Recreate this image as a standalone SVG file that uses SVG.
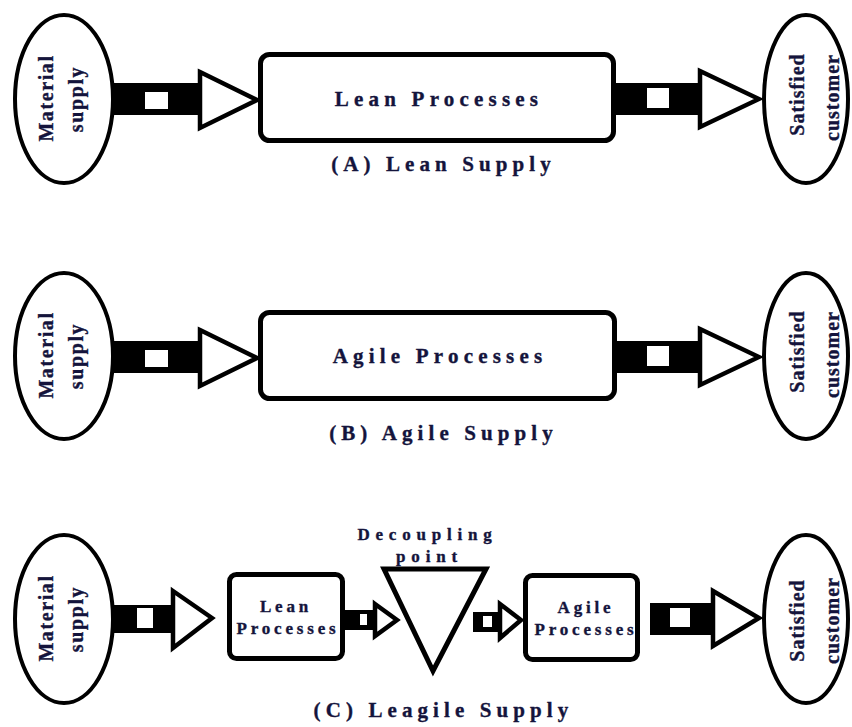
<svg xmlns="http://www.w3.org/2000/svg" width="852" height="727" viewBox="0 0 852 727">
  <style>
    .bg { fill: #ffffff; }
    .ell { fill: #ffffff; stroke: #000000; stroke-width: 4; }
    .box { fill: #ffffff; stroke: #000000; stroke-width: 5; }
    .tri { fill: #ffffff; stroke: #000000; stroke-width: 5; stroke-linejoin: miter; }
    .shaft { fill: #000000; }
    .win { fill: #ffffff; }
    .head { fill: #ffffff; stroke: #000000; stroke-width: 4.5; stroke-linejoin: miter; }
    text { font-family: "Liberation Serif", "Times New Roman", serif; font-weight: bold; fill: #14143c; stroke: #14143c; stroke-width: 0.35; text-anchor: middle; }
    .title { font-size: 21px; letter-spacing: 5.2px; }
    .cap { font-size: 21px; letter-spacing: 5.1px; }
    .small { font-size: 17px; letter-spacing: 3.8px; }
    .dec { font-size: 17px; letter-spacing: 5.8px; }
    .ovl { font-size: 20px; letter-spacing: 1.6px; }
    .ovr { font-size: 20px; letter-spacing: 1px; }
  </style>
  <rect class="bg" x="0" y="0" width="852" height="727"/>

  <!-- block arrows: black shaft, white window, outlined head -->
  <g id="connectors">
    <!-- row A -->
    <rect class="shaft" x="113" y="83" width="89" height="32"/>
    <rect class="win" x="145" y="92" width="23" height="17"/>
    <polygon class="head" points="200,72 257,100 200,128"/>
    <rect class="shaft" x="615" y="83" width="87" height="32"/>
    <rect class="win" x="647" y="88" width="22" height="20"/>
    <polygon class="head" points="700,71 759,99 700,127"/>

    <!-- row B -->
    <rect class="shaft" x="113" y="341" width="89" height="32"/>
    <rect class="win" x="145" y="350" width="23" height="17"/>
    <polygon class="head" points="200,330 257,358 200,386"/>
    <rect class="shaft" x="615" y="341" width="87" height="32"/>
    <rect class="win" x="647" y="346" width="22" height="20"/>
    <polygon class="head" points="700,329 759,357 700,385"/>

    <!-- row C -->
    <rect class="shaft" x="111" y="605" width="64" height="28"/>
    <rect class="win" x="137" y="608" width="16" height="20"/>
    <polygon class="head" points="173,591 212,618 173,648"/>
    <rect class="shaft" x="343" y="610" width="34" height="20"/>
    <rect class="win" x="360" y="614" width="7" height="11"/>
    <polygon class="head" points="375,604 397,620 375,636"/>
    <rect class="shaft" x="473" y="612" width="29" height="20"/>
    <rect class="win" x="483" y="616" width="9" height="11"/>
    <polygon class="head" points="500,604 521,620 500,638"/>
    <rect class="shaft" x="650" y="603" width="65" height="32"/>
    <rect class="win" x="670" y="608" width="20" height="19"/>
    <polygon class="head" points="713,591 759,618 713,646"/>
  </g>

  <!-- (A) Lean supply -->
  <g id="a-material">
    <ellipse class="ell" cx="64" cy="99" rx="49" ry="84"/>
    <text class="ovl" transform="translate(53,99) rotate(-90)" x="1">Material</text>
    <text class="ovl" transform="translate(83,100) rotate(-90)" x="1">supply</text>
  </g>
  <g id="a-lean">
    <rect class="box" x="260.5" y="54.5" width="353" height="86" rx="9"/>
    <text class="title" x="439" y="106">Lean Processes</text>
  </g>
  <g id="a-customer">
    <ellipse class="ell" cx="806" cy="99" rx="42" ry="84"/>
    <text class="ovr" transform="translate(804,95) rotate(-90)" x="0.5">Satisfied</text>
    <text class="ovr" transform="translate(839,98) rotate(-90)" x="0.5">customer</text>
  </g>
  <g id="a-caption">
    <text class="cap" x="443.5" y="171">(A) Lean Supply</text>
  </g>

  <!-- (B) Agile supply -->
  <g id="b-material">
    <ellipse class="ell" cx="64" cy="356" rx="49" ry="83"/>
    <text class="ovl" transform="translate(53,356) rotate(-90)" x="1">Material</text>
    <text class="ovl" transform="translate(83,357) rotate(-90)" x="1">supply</text>
  </g>
  <g id="b-agile">
    <rect class="box" x="260.5" y="312.5" width="354" height="86" rx="9"/>
    <text class="title" x="440" y="363">Agile Processes</text>
  </g>
  <g id="b-customer">
    <ellipse class="ell" cx="806" cy="356" rx="42" ry="83"/>
    <text class="ovr" transform="translate(804,352) rotate(-90)" x="0.5">Satisfied</text>
    <text class="ovr" transform="translate(839,355) rotate(-90)" x="0.5">customer</text>
  </g>
  <g id="b-caption">
    <text class="cap" x="443.5" y="440">(B) Agile Supply</text>
  </g>

  <!-- (C) Leagile supply -->
  <g id="c-material">
    <ellipse class="ell" cx="64" cy="619" rx="49" ry="84"/>
    <text class="ovl" transform="translate(53,619) rotate(-90)" x="1">Material</text>
    <text class="ovl" transform="translate(83,620) rotate(-90)" x="1">supply</text>
  </g>
  <g id="c-lean">
    <rect class="box" x="229.5" y="574.5" width="113" height="84" rx="7"/>
    <text class="small" x="286" y="612">Lean</text>
    <text class="small" x="288" y="634">Processes</text>
  </g>
  <g id="c-decoupling">
    <polygon class="tri" points="384,569 486,569 433,671"/>
    <text class="dec" x="427.5" y="540">Decoupling</text>
    <text class="dec" x="429.5" y="562">point</text>
  </g>
  <g id="c-agile">
    <rect class="box" x="525.5" y="575.5" width="112" height="84" rx="7"/>
    <text class="small" x="586" y="613">Agile</text>
    <text class="small" x="586" y="635">Processes</text>
  </g>
  <g id="c-customer">
    <ellipse class="ell" cx="806" cy="619" rx="42" ry="84"/>
    <text class="ovr" transform="translate(804,621) rotate(-90)" x="0.5">Satisfied</text>
    <text class="ovr" transform="translate(839,621) rotate(-90)" x="0.5">customer</text>
  </g>
  <g id="c-caption">
    <text class="cap" x="443.5" y="717">(C) Leagile Supply</text>
  </g>
</svg>
